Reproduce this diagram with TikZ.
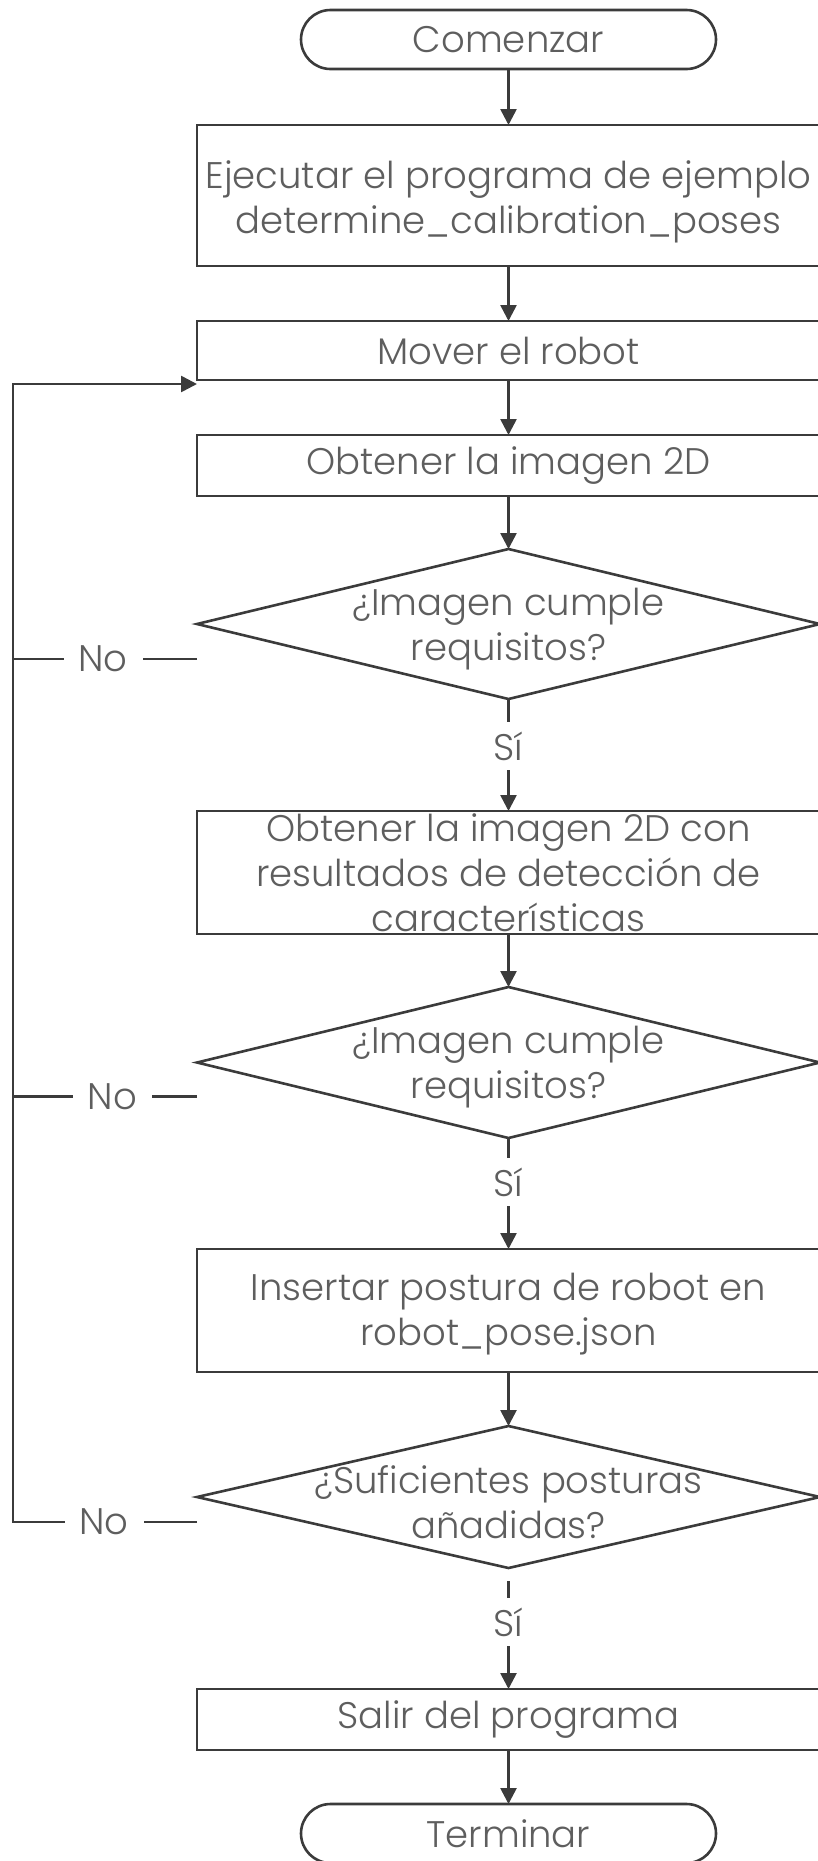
\documentclass[tikz,border=0pt]{standalone}
\usepackage{fontspec}
\setmainfont{Poppins Light}
\usepackage{xcolor}
\usetikzlibrary{positioning,arrows.meta,shapes.geometric}

\definecolor{linegray}{HTML}{3B3B3B}
\definecolor{textgray}{HTML}{5E5E5E}

\begin{document}
\begin{tikzpicture}[x=1pt, y=1pt, color=linegray, line width=2.6pt, node distance=55pt, >={Triangle[length=16pt, width=16pt]}, every node/.style={text=textgray, outer sep=0pt, font=\fontsize{37}{45}\selectfont}, terminal/.style={draw, rounded corners=29.5pt, minimum width=415pt, minimum height=59pt, inner sep=0pt}, process/.style={draw, rectangle, minimum width=623pt, inner sep=0pt, align=center}, decision/.style={draw, diamond, minimum width=623pt, minimum height=150pt, inner sep=0pt}, txt/.style={align=center, inner sep=0pt}, yes/.style={fill=white, inner xsep=4pt, inner ysep=0pt, minimum height=48pt}, no/.style={fill=white, inner xsep=15pt, inner ysep=4pt}]

\useasboundingbox (0,0) rectangle (818,-1861);

\node[terminal] (start) at (508.5,-39.5) {Comenzar};
\node[process, minimum height=141pt] (run) [below=56pt of start] {};
\node[txt] (runtxt) at ([yshift=-6pt]run.center) {Ejecutar el programa de ejemplo\\determine\_calibration\_poses};
\node[process, minimum height=59pt] (move) [below=of run] {Mover el robot};
\node[process, minimum height=61pt] (grab) [below=of move] {Obtener la imagen 2D};
\node[decision] (dec1) [below=53pt of grab] {};
\node[txt] (dec1txt) at ([yshift=-5pt]dec1.center) {¿Imagen cumple\\requisitos?};
\node[process, minimum height=123pt] (detect) [below=112pt of dec1] {};
\node[txt] (detecttxt) at (detect) {Obtener la imagen 2D con\\resultados de detección de\\características};
\node[decision, minimum height=151pt] (dec2) [below=53pt of detect] {};
\node[txt] (dec2txt) at ([yshift=-5pt]dec2.center) {¿Imagen cumple\\requisitos?};
\node[process, minimum height=123pt] (insert) [below=111pt of dec2] {};
\node[txt] (inserttxt) at ([yshift=-4pt]insert.center) {Insertar postura de robot en\\robot\_pose.json};
\node[decision, minimum height=142pt] (dec3) [below=54pt of insert] {};
\node[txt] (dec3txt) at ([yshift=-5pt]dec3.center) {¿Suficientes posturas\\añadidas?};
\node[process, minimum height=61pt] (quit) [below=121pt of dec3] {Salir del programa};
\node[terminal] (stop) [below=54pt of quit] {Terminar};

\coordinate (loopx) at (13,0);
\coordinate (looptop) at ([yshift=-4pt]move.south west);

% main flow
\draw[->] (start) -- (run);
\draw[->] (run) -- (move);
\draw[->] (move) -- (grab);
\draw[->] (grab) -- (dec1);
\draw[->] (dec1) -- (detect) node[yes, pos=0.42] (yes1) {Sí};
\draw[->] (detect) -- (dec2);
\draw[->] (dec2) -- (insert) node[yes, pos=0.40] (yes2) {Sí};
\draw[->] (insert) -- (dec3);
\draw[->] ([yshift=-13pt]dec3.south) -- (quit) node[yes, pos=0.38] (yes3) {Sí};
\draw[->] (quit) -- (stop);

% back to the robot
\draw ([yshift=-35pt]dec1.west) -- ([yshift=-35pt]dec1.west -| loopx) node[no, pos=0.51] (no1) {No};
\draw ([yshift=-34pt]dec2.west) -- ([yshift=-34pt]dec2.west -| loopx) node[no, pos=0.46] (no2) {No};
\draw[->] ([yshift=-25pt]dec3.west) -- ([yshift=-25pt]dec3.west -| loopx) node[no, pos=0.505] (no3) {No} -- (loopx |- looptop) -- (looptop);
\end{tikzpicture}
\end{document}
